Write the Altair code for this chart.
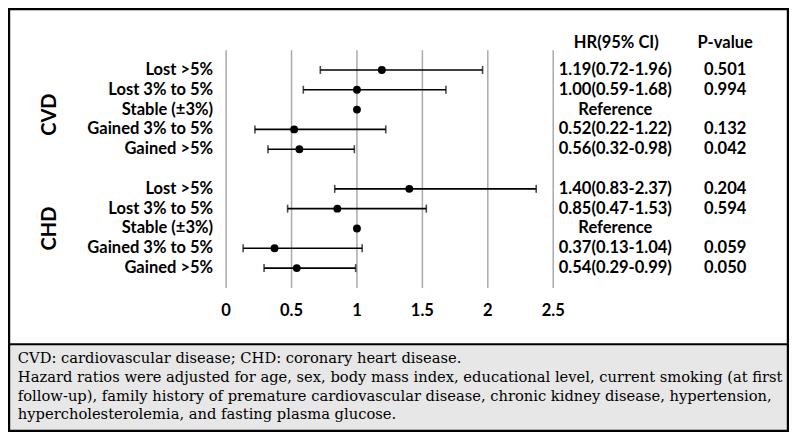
import altair as alt
import pandas as pd

# ---------------- data ----------------
categories = ["Lost >5%", "Lost 3% to 5%", "Stable (±3%)", "Gained 3% to 5%", "Gained >5%"]
groups = ["CVD", "CHD"]
cvd_hr = [1.19, 1.00, 1.00, 0.52, 0.56]
cvd_lo = [0.72, 0.59, None, 0.22, 0.32]
cvd_hi = [1.96, 1.68, None, 1.22, 0.98]
cvd_p = ["0.501", "0.994", "", "0.132", "0.042"]
chd_hr = [1.40, 0.85, 1.00, 0.37, 0.54]
chd_lo = [0.83, 0.47, None, 0.13, 0.29]
chd_hi = [2.37, 1.53, None, 1.04, 0.99]
chd_p = ["0.204", "0.594", "", "0.059", "0.050"]
x_ticks = [0, 0.5, 1, 1.5, 2, 2.5]
x_tick_labels = ["0", "0.5", "1", "1.5", "2", "2.5"]
footer_lines = [
    "CVD: cardiovascular disease; CHD: coronary heart disease.",
    "Hazard ratios were adjusted for age, sex, body mass index, educational level, current smoking (at first",
    "follow-up), family history of premature cardiovascular disease, chronic kidney disease, hypertension,",
    "hypercholesterolemia, and fasting plasma glucose.",
]

# ---------------- layout helpers ----------------
W, H = 781, 424
SX = (W - 2) / 794
SY = (H - 2) / 443


def cx(v):
    return (v - 1) * SX + 1


def cy(v):
    return (v - 1) * SY + 1


rows = []
for gi, (g, hrs, los, his, ps) in enumerate(
    [("CVD", cvd_hr, cvd_lo, cvd_hi, cvd_p), ("CHD", chd_hr, chd_lo, chd_hi, chd_p)]
):
    for i, cat in enumerate(categories):
        lo, hi, hr = los[i], his[i], hrs[i]
        txt = "Reference" if lo is None else f"{hr:.2f}({lo:.2f}-{hi:.2f})"
        rows.append(dict(group=g, label=cat, slot=gi * 6 + i, hr=hr, lo=lo, hi=hi,
                         hrtxt=txt, ptxt=ps[i]))
df = pd.DataFrame(rows)
ci_df = df.dropna(subset=["lo"]).copy()
grp_df = df.groupby("group", sort=False)["slot"].mean().reset_index()
tick_df = pd.DataFrame({"tick": x_ticks, "lab": x_tick_labels})

XR = [cx(222.3), cx(555.7)]
YR = [cy(44.2), cy(293.8)]
xs = alt.Scale(domain=[0, 2.5], range=XR)
ys = alt.Scale(domain=[-1, 11], range=YR)

SANS = "Lato"
FS = 16.5
FFS = 14.7
F_LEFT = cx(10)
F_Y = [cy(368), cy(388), cy(408), cy(427)]


def px_to_x(p):
    return (p - XR[0]) * 2.5 / (XR[1] - XR[0])


def py_to_y(p):
    return -1 + (p - YR[0]) * 12 / (YR[1] - YR[0])


foot_df = pd.DataFrame({
    "line": footer_lines,
    "fx": [px_to_x(F_LEFT)] * len(footer_lines),
    "fy": [py_to_y(v) for v in F_Y],
})

# ---------------- layers ----------------
frame_src = alt.Chart(pd.DataFrame({"k": [0]}))

footer_bg = frame_src.mark_rect(fill="#e7e7e7").encode(
    x=alt.value(1), x2=alt.value(W - 1), y=alt.value(cy(353)), y2=alt.value(H - 1)
)
sep = frame_src.mark_rule(color="black", strokeWidth=2).encode(
    x=alt.value(1), x2=alt.value(W - 1), y=alt.value(cy(353))
)
border = frame_src.mark_rect(fillOpacity=0, stroke="black", strokeWidth=2.4).encode(
    x=alt.value(1), x2=alt.value(W - 1), y=alt.value(1), y2=alt.value(H - 1)
)

XQ = lambda f: alt.X(f, type="quantitative", scale=xs, axis=None)
YQ = lambda f: alt.Y(f, type="quantitative", scale=ys, axis=None)

grid = alt.Chart(tick_df).transform_calculate(y0="-1", y1="11").mark_rule(
    color="#aaaaaa", strokeWidth=1.5
).encode(x=XQ("tick"), y=YQ("y0"), y2="y1:Q")

tick_labels = alt.Chart(tick_df).mark_text(
    font=SANS, fontSize=FS, fontWeight="bold", color="black", baseline="middle"
).encode(x=XQ("tick"), y=alt.value(cy(318)), text="lab:N")

base = alt.Chart(df)
ci = alt.Chart(ci_df).mark_rule(color="black", strokeWidth=1.6).encode(
    x=XQ("lo"), x2="hi:Q", y=YQ("slot"),
)
cap_lo = alt.Chart(ci_df).mark_tick(color="black", orient="vertical", size=8, thickness=1.6).encode(
    x=XQ("lo"), y=YQ("slot")
)
cap_hi = alt.Chart(ci_df).mark_tick(color="black", orient="vertical", size=8, thickness=1.6).encode(
    x=XQ("hi"), y=YQ("slot")
)
pts = base.mark_circle(color="black", opacity=1, size=62).encode(x=XQ("hr"), y=YQ("slot"))
labels = base.mark_text(
    font=SANS, fontSize=FS, fontWeight="bold", align="right", baseline="middle", color="black"
).encode(x=alt.value(cx(209)), y=YQ("slot"), text="label:N")
hr_txt = base.mark_text(
    font=SANS, fontSize=FS, fontWeight="bold", align="center", baseline="middle", color="black"
).encode(x=alt.value(cx(619)), y=YQ("slot"), text="hrtxt:N")
p_txt = base.mark_text(
    font=SANS, fontSize=FS, fontWeight="bold", align="center", baseline="middle", color="black"
).encode(x=alt.value(cx(731)), y=YQ("slot"), text="ptxt:N")

hdr_hr = frame_src.mark_text(
    text="HR(95% CI)", font=SANS, fontSize=FS, fontWeight="bold", align="center", baseline="middle"
).encode(x=alt.value(cx(620)), y=alt.value(cy(37)))
hdr_p = frame_src.mark_text(
    text="P-value", font=SANS, fontSize=FS, fontWeight="bold", align="center", baseline="middle"
).encode(x=alt.value(cx(731)), y=alt.value(cy(37)))

grp_cvd = alt.Chart(grp_df).transform_filter("datum.group == 'CVD'").mark_text(
    font=SANS, fontSize=20, fontWeight="bold", angle=270, align="center", baseline="middle",
    yOffset=5
).encode(x=alt.value(cx(43)), y=YQ("slot"), text="group:N")
grp_chd = alt.Chart(grp_df).transform_filter("datum.group == 'CHD'").mark_text(
    font=SANS, fontSize=20, fontWeight="bold", angle=270, align="center", baseline="middle"
).encode(x=alt.value(cx(43)), y=YQ("slot"), text="group:N")

footer = alt.Chart(foot_df).mark_text(
    font="DejaVu Serif", fontSize=FFS, align="left", baseline="middle", color="black"
).encode(x=XQ("fx"), y=YQ("fy"), text="line:N")

full = alt.layer(
    footer_bg, sep, border, grid, ci, cap_lo, cap_hi, pts, labels, hr_txt, p_txt,
    hdr_hr, hdr_p, grp_cvd, grp_chd, tick_labels, footer,
).properties(
    width=W, height=H, padding=0, autosize=alt.AutoSizeParams(type="none"), background="white"
).configure_view(stroke=None)

full.save("out.html", embed_options={"renderer": "svg", "actions": False})
